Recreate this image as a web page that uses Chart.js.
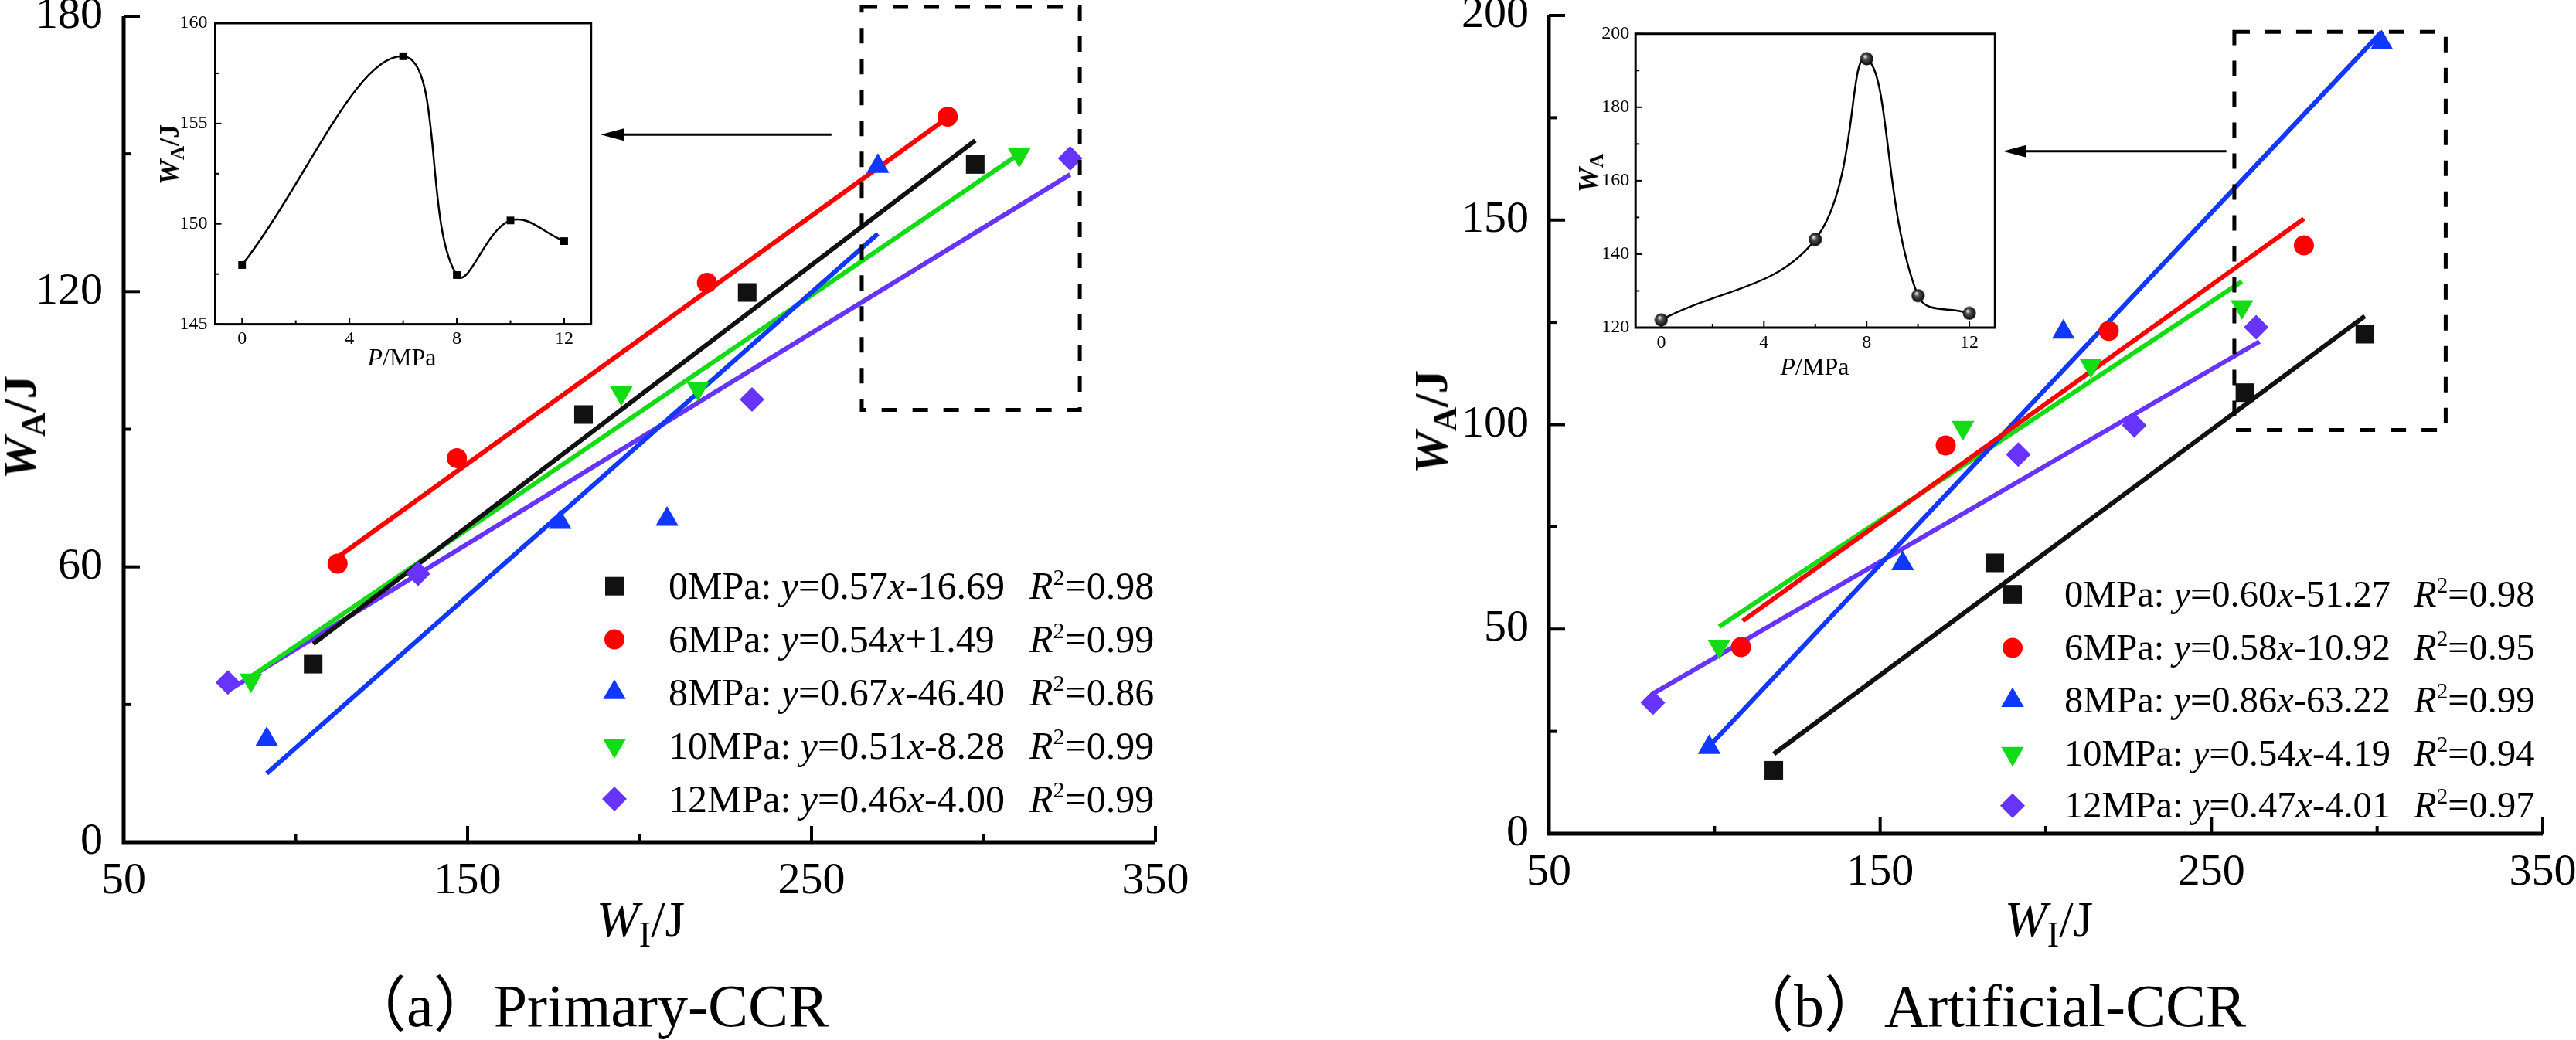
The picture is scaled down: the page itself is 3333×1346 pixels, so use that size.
<!DOCTYPE html>
<html><head><meta charset="utf-8">
<script src="https://cdn.jsdelivr.net/npm/chart.js@4.4.1/dist/chart.umd.min.js"></script>
<style>
body{margin:0;background:#fff;}
#wrap{position:relative;width:3333px;height:1346px;overflow:hidden;background:#fff;font-family:"Liberation Serif","LiberationSerif","Times New Roman",Times,"DejaVu Serif","Noto Serif",serif;color:#000;}
canvas{position:absolute;}
.t{position:absolute;white-space:nowrap;line-height:1;}
.c{transform:translate(-50%,-50%);}
.r{transform:translate(-50%,-50%) rotate(-90deg);}
.sb{font-size:0.7em;position:relative;top:0.28em;}
.sp{font-size:0.6em;position:relative;top:-0.62em;}
.cjk{font-family:"Noto Sans CJK SC","Noto Sans CJK JP",sans-serif;}
</style></head><body><div id="wrap">
<canvas id="cA" width="1666" height="1346" style="left:0;top:0;width:1666px;height:1346px"></canvas>
<canvas id="cB" width="1667" height="1346" style="left:1666px;top:0;width:1667px;height:1346px"></canvas>
<canvas id="iA" width="600" height="470" style="left:200px;top:0;width:600px;height:470px"></canvas>
<canvas id="iB" width="600" height="480" style="left:2040px;top:0;width:600px;height:480px"></canvas>
</div>
<script>
// ---------------- DATA ----------------
const pressures = ['0MPa','6MPa','8MPa','10MPa','12MPa'];
const seriesColors = ['#111111','#FF0000','#1038FF','#14DC14','#6633FF'];
// (a) Primary-CCR : W_I (x) / W_A (y)
const a0X=[105.1,183.7,231.3,297.6],  a0Y=[38.8,93.2,119.8,147.7];
const a6X=[112.2,146.9,219.6,289.6],  a6Y=[60.7,83.7,121.9,158.1];
const a8X=[91.6,176.9,208.0,269.3],   a8Y=[22.4,69.7,70.4,147.3];
const a10X=[87.0,194.7,217.0,310.4],  a10Y=[35.3,97.9,98.9,149.8];
const a12X=[80.3,135.6,232.7,325.2],  a12Y=[34.8,58.5,96.5,149.0];
const aFitX=[[105.1,297.6],[112.2,289.6],[91.6,269.3],[87.0,310.4],[80.3,325.2]];
const aFitY=[[43.2,152.9],[62.1,157.9],[15.0,132.6],[36.1,150.0],[33.0,145.5]];
const aSlope=['0.57','0.54','0.67','0.51','0.46'];
const aInter=['-16.69','+1.49','-46.40','-8.28','-4.00'];
const aR2=['0.98','0.99','0.86','0.99','0.99'];
// (b) Artificial-CCR
const b0X=[117.9,184.6,189.8,260.1,296.3], b0Y=[15.5,66.2,58.5,107.8,122.1];
const b6X=[108.0,169.8,219.0,277.9],  b6Y=[45.6,94.9,122.9,143.8];
const b8X=[98.4,156.8,205.3,301.4],   b8Y=[21.1,66.0,122.6,193.3];
const b10X=[101.4,175.0,213.6,259.2], b10Y=[45.8,99.3,114.5,128.8];
const b12X=[81.4,191.7,226.7,263.5],  b12Y=[32.0,92.7,99.8,123.8];
const bFitX=[[117.9,296.3],[108.5,277.9],[98.4,301.4],[101.4,259.2],[81.4,264.5]];
const bFitY=[[19.5,126.5],[52.0,150.3],[21.4,196.0],[50.6,135.0],[34.2,120.3]];
const bSlope=['0.60','0.58','0.86','0.54','0.47'];
const bInter=['-51.27','-10.92','-63.22','-4.19','-4.01'];
const bR2=['0.98','0.95','0.99','0.94','0.97'];
// insets: max W_A vs confining pressure
const insetP=[0,6,8,10,12];
const insetAWA=[147.95,158.35,147.45,150.17,149.14];
const insetBWA=[122.1,144.0,193.2,128.7,123.9];
// ticks
const mainXTicks=[50,100,150,200,250,300,350];
const aYTicks=[0,30,60,90,120,150,180];
const bYTicks=[0,25,50,75,100,125,150,175,200];
const insetXTicks=[0,2,4,6,8,10,12];
const insetAYTicks=[145,147.5,150,152.5,155,157.5,160];
const insetBYTicks=[120,130,140,150,160,170,180,190,200];
// annotation boxes (data units) [x1,x2,y1,y2] and arrows [xTail,xTip,y]
const aZoomBox=[264.6,328,94.2,182], aArrow=[255.8,188.7,154.2];
const bZoomBox=[256.9,320.7,98.7,196], bArrow=[254.5,187.1,166.8];

// ---------------- HELPERS ----------------
const SERIF="'Liberation Serif','LiberationSerif','Times New Roman',Times,'DejaVu Serif','Noto Serif',serif";
Chart.defaults.font.family=SERIF;
Chart.defaults.color='#000';
const styles=[{s:'rect',r:17,rot:0},{s:'circle',r:13,rot:0},{s:'triangle',r:17,rot:0},{s:'triangle',r:17,rot:180},{s:'rectRot',r:16,rot:0}];
const pts=(xs,ys)=>xs.map((x,i)=>({x:x,y:ys[i]}));
const isMajor=(v,base,step)=>Math.abs((v-base)/step-Math.round((v-base)/step))<1e-6;

function drawMarker(c,k,x,y,col){
  c.fillStyle=col;c.beginPath();
  if(k===0){c.rect(x-12,y-12,24,24);}
  else if(k===1){c.arc(x,y,13,0,Math.PI*2);}
  else if(k===2){c.moveTo(x,y-17);c.lineTo(x+14.7,y+8.5);c.lineTo(x-14.7,y+8.5);}
  else if(k===3){c.moveTo(x,y+17);c.lineTo(x+14.7,y-8.5);c.lineTo(x-14.7,y-8.5);}
  else {c.moveTo(x-16,y);c.lineTo(x,y-16);c.lineTo(x+16,y);c.lineTo(x,y+16);}
  c.closePath();c.fill();
}

function framePlugin(cfg){
  return {
    id:'frame',
    beforeDatasetsDraw(chart){
      const c=chart.ctx,a=chart.chartArea,xs=chart.scales.x,ys=chart.scales.y;
      c.save();c.strokeStyle='#000';c.lineCap='butt';c.lineJoin='miter';
      c.lineWidth=cfg.axisW;
      if(cfg.full){c.strokeRect(a.left,a.top,a.right-a.left,a.bottom-a.top);}
      else{c.beginPath();c.moveTo(a.left,a.top);c.lineTo(a.left,a.bottom);c.lineTo(a.right,a.bottom);c.stroke();}
      c.lineWidth=cfg.tickW;
      xs.ticks.forEach(t=>{const p=xs.getPixelForValue(t.value);const L=isMajor(t.value,cfg.xBase,cfg.xStep)?cfg.maj:cfg.min;
        c.beginPath();c.moveTo(p,a.bottom);c.lineTo(p,a.bottom-L);c.stroke();});
      ys.ticks.forEach(t=>{const p=ys.getPixelForValue(t.value);const L=isMajor(t.value,cfg.yBase,cfg.yStep)?cfg.maj:cfg.min;
        c.beginPath();c.moveTo(a.left,p);c.lineTo(a.left+L,p);c.stroke();});
      c.restore();
    },
    afterDraw(chart){
      if(!cfg.box)return;
      const c=chart.ctx,xs=chart.scales.x,ys=chart.scales.y;
      c.save();c.strokeStyle='#000';c.fillStyle='#000';
      const bx1=xs.getPixelForValue(cfg.box[0]),bx2=xs.getPixelForValue(cfg.box[1]);
      const by1=ys.getPixelForValue(cfg.box[2]),by2=ys.getPixelForValue(cfg.box[3]);
      c.lineWidth=5;c.setLineDash([20,20]);
      c.strokeRect(bx1,by2,bx2-bx1,by1-by2);
      c.setLineDash([]);
      const ay=ys.getPixelForValue(cfg.arrow[2]),ax1=xs.getPixelForValue(cfg.arrow[0]),ax2=xs.getPixelForValue(cfg.arrow[1]);
      c.lineWidth=3;c.beginPath();c.moveTo(ax1,ay);c.lineTo(ax2+20,ay);c.stroke();
      c.beginPath();c.moveTo(ax2,ay);c.lineTo(ax2+30,ay-8);c.lineTo(ax2+30,ay+8);c.closePath();c.fill();
      cfg.legRows.forEach((ry,k)=>drawMarker(c,k,cfg.legX,ry,seriesColors[k]));
      c.restore();
    }
  };
}

function mainChart(id,xsArr,ysArr,fitX,fitY,yMax,yTicks,yMajor,lay,cfg){
  const ds=[];
  xsArr.forEach((xa,k)=>{
    ds.push({label:pressures[k],data:pts(xa,ysArr[k]),showLine:false,order:0,clip:false,
      pointStyle:styles[k].s,pointRadius:styles[k].r,pointHoverRadius:styles[k].r,rotation:styles[k].rot,
      pointBackgroundColor:seriesColors[k],pointBorderWidth:0,backgroundColor:seriesColors[k],borderColor:seriesColors[k]});
  });
  fitX.forEach((fx,k)=>{
    ds.push({label:pressures[k]+' fit',data:pts(fx,fitY[k]),showLine:true,order:1,clip:false,
      borderColor:seriesColors[k],borderWidth:6,pointRadius:0,fill:false,tension:0});
  });
  return new Chart(document.getElementById(id),{
    type:'scatter',data:{datasets:ds},
    options:{responsive:false,animation:false,events:[],
      layout:{padding:{left:0,right:lay.right,top:lay.top,bottom:0}},
      plugins:{legend:{display:false},tooltip:{enabled:false}},
      scales:{
        x:{type:'linear',min:50,max:350,
          afterBuildTicks:s=>{s.ticks=mainXTicks.map(v=>({value:v}));},
          afterFit:s=>{s.height=lay.xH;s.paddingLeft=0;s.paddingRight=0;},
          grid:{display:false,drawTicks:false},border:{display:false},
          ticks:{autoSkip:false,maxRotation:0,padding:16,font:{size:58,family:SERIF},
            callback:v=>isMajor(v,50,100)?String(v):''}},
        y:{type:'linear',min:0,max:yMax,
          afterBuildTicks:s=>{s.ticks=yTicks.map(v=>({value:v}));},
          afterFit:s=>{s.width=lay.yW;s.paddingTop=0;s.paddingBottom=0;},
          grid:{display:false,drawTicks:false},border:{display:false},
          ticks:{autoSkip:false,padding:lay.yPad,font:{size:58,family:SERIF},
            callback:v=>isMajor(v,0,yMajor)?String(v):''}}
      }},
    plugins:[framePlugin(cfg)]
  });
}

function sphere(r){
  const c=document.createElement('canvas');c.width=c.height=2*r;
  const g=c.getContext('2d');
  const gr=g.createRadialGradient(r*0.75,r*0.65,r*0.08,r,r,r);
  gr.addColorStop(0,'#e0e0e0');gr.addColorStop(0.3,'#555');gr.addColorStop(1,'#000');
  g.fillStyle=gr;g.beginPath();g.arc(r,r,r-0.5,0,Math.PI*2);g.fill();
  return c;
}

function insetChart(id,wa,yMin,yMax,yTicks,yMajor,lay,pStyle,pR){
  return new Chart(document.getElementById(id),{
    type:'scatter',
    data:{datasets:[{data:pts(insetP,wa),showLine:true,tension:0.4,borderColor:'#000',borderWidth:2.5,
      pointStyle:pStyle,pointRadius:pR,pointHoverRadius:pR,pointBackgroundColor:'#000',pointBorderWidth:0,clip:false}]},
    options:{responsive:false,animation:false,events:[],
      layout:{padding:{left:0,right:lay.right,top:lay.top,bottom:0}},
      plugins:{legend:{display:false},tooltip:{enabled:false}},
      scales:{
        x:{type:'linear',min:-1,max:13,
          afterBuildTicks:s=>{s.ticks=insetXTicks.map(v=>({value:v}));},
          afterFit:s=>{s.height=lay.xH;s.paddingLeft=0;s.paddingRight=0;},
          grid:{display:false,drawTicks:false},border:{display:false},
          ticks:{autoSkip:false,maxRotation:0,padding:5,font:{size:24,family:SERIF},callback:v=>isMajor(v,0,4)?String(v):''}},
        y:{type:'linear',min:yMin,max:yMax,
          afterBuildTicks:s=>{s.ticks=yTicks.map(v=>({value:v}));},
          afterFit:s=>{s.width=lay.yW;s.paddingTop=0;s.paddingBottom=0;},
          grid:{display:false,drawTicks:false},border:{display:false},
          ticks:{autoSkip:false,padding:lay.yPad,font:{size:24,family:SERIF},callback:v=>isMajor(v,yMin,yMajor)?String(v):''}}
      }},
    plugins:[framePlugin({full:true,axisW:3,tickW:2,maj:8,min:5,xBase:0,xStep:4,yBase:yMin,yStep:yMajor})]
  });
}

function build(){
  mainChart('cA',[a0X,a6X,a8X,a10X,a12X],[a0Y,a6Y,a8Y,a10Y,a12Y],aFitX,aFitY,180,aYTicks,60,
    {right:171,top:21,xH:256,yW:160,yPad:27},
    {axisW:5,tickW:4,maj:21,min:10,xBase:50,xStep:100,yBase:0,yStep:60,box:aZoomBox,arrow:aArrow,
     legX:795,legRows:[758.7,827.5,896.3,965,1034]});
  mainChart('cB',[b0X,b6X,b8X,b10X,b12X],[b0Y,b6Y,b8Y,b10Y,b12Y],bFitX,bFitY,200,bYTicks,50,
    {right:43,top:20,xH:267,yW:338,yPad:26},
    {axisW:5,tickW:4,maj:21,min:10,xBase:50,xStep:100,yBase:0,yStep:50,box:bZoomBox,arrow:bArrow,
     legX:2604-1666,legRows:[769.8,838.6,906.5,975.3,1042.8]});
  insetChart('iA',insetAWA,145,160,insetAYTicks,5,{right:35.3,top:30,xH:50.4,yW:78.5,yPad:10},'rect',7);
  insetChart('iB',insetBWA,120,200,insetBYTicks,20,{right:58.7,top:43.75,xH:56,yW:76.2,yPad:8},sphere(9),9);
}

// ---------------- TEXT ----------------
const wrap=document.getElementById('wrap');
function addText(html,cls,x,y,size){
  const d=document.createElement('div');d.className='t '+cls;d.innerHTML=html;
  d.style.left=x+'px';d.style.top=y+'px';d.style.fontSize=size+'px';
  wrap.appendChild(d);return d;
}
addText('<b><i>W</i><span class="sb">A</span>/J</b>','r',25,553,62);
addText('<b><i>W</i><span class="sb">A</span>/J</b>','r',1851,546,62);
addText('<i>W</i><span class="sb">I</span>/J','c',829,1190,66);
addText('<i>W</i><span class="sb">I</span>/J','c',2651,1190,66);
addText('<i>P</i>/MPa','c',520,462,32);
addText('<b><i>W</i><span class="sb">A</span>/J</b>','r',219,200,36);
addText('<i>P</i>/MPa','c',2348,474,32);
addText('<b><i>W</i><span class="sb">A</span></b>','r',2055,224,36);
addText('<span class="cjk">（</span>a<span class="cjk">）</span>Primary-CCR','',448,1255,78);
addText('<span class="cjk">（</span>b<span class="cjk">）</span>Artificial-CCR','',2243,1255,78);
function legend(x1,x2,rows,slope,inter,r2,fs){
  rows.forEach((ry,k)=>{
    addText(pressures[k]+': <i>y</i>='+slope[k]+'<i>x</i>'+inter[k],'',x1,ry-fs*0.506,fs);
    addText('<i>R</i><span class="sp">2</span>='+r2[k],'',x2,ry-fs*0.506,fs);
  });
}
legend(865,1332,[758.7,827.5,896.3,965,1034],aSlope,aInter,aR2,50);
legend(2671,3123,[769.8,838.6,906.5,975.3,1042.8],bSlope,bInter,bR2,48.5);

if(document.fonts&&document.fonts.load){
  Promise.all([document.fonts.load("58px 'Liberation Serif'"),document.fonts.load("italic 58px 'Liberation Serif'")]).then(build,build);
}else{build();}
</script></body></html>
